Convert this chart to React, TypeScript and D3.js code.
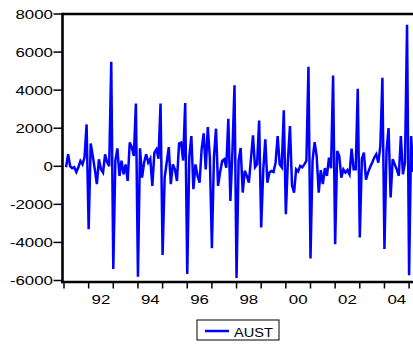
import React from 'react';
import * as d3 from 'd3';

// Monthly series AUST, starting February 1991
const startYear = 1991;
const startMonth = 2;
const aust1991 = [-50, 630, 0, -100, -50, -300, -50, 280, 100, 470, 2200];
const aust1992 = [-3300, 1200, 540, -160, -940, 370, -160, -330, 630, 210, 0, 5490];
const aust1993 = [-5400, 300, 940, -510, 300, -420, 100, -770, 1250, 1000, 540, 3300];
const aust1994 = [-5800, 940, -600, 200, 630, 200, 400, -1030, 720, 890, 400, 3300];
const aust1995 = [-4660, -600, 200, 1010, -940, 100, -160, -770, 1190, 1240, 300, 3320];
const aust1996 = [-5660, 500, 1590, -1200, 100, -500, -860, 900, 1730, -160, 2060, 450];
const aust1997 = [-4300, 500, 1975, -1030, -300, 280, 370, -70, 2500, -1820, 800, 4250];
const aust1998 = [-5870, 300, 960, -1380, -240, -500, -860, 370, 1625, -50, 100, 2400];
const aust1999 = [-3215, -200, 1420, -860, -330, -250, -300, 190, 1590, 100, -50, 2940];
const aust2000 = [-2520, 300, 2110, -1000, -1380, -160, -270, 20, -50, 100, 280, 5230];
const aust2001 = [-4840, 300, 1270, 540, -1380, -200, -940, -100, -500, 450, -100, 4770];
const aust2002 = [-4090, 800, 540, -600, -160, -330, -200, -420, 930, -160, -160, 4070];
const aust2003 = [-3740, 400, 720, -700, -330, -50, 190, 450, 630, 190, 1060, 4650];
const aust2004 = [-4350, 800, 2010, -1640, 370, 100, -160, -500, 1590, -420, 200, 7440];
const aust2005 = [-5720, 1590, -300];

const aust = [
  ...aust1991, ...aust1992, ...aust1993, ...aust1994, ...aust1995,
  ...aust1996, ...aust1997, ...aust1998, ...aust1999, ...aust2000,
  ...aust2001, ...aust2002, ...aust2003, ...aust2004, ...aust2005,
];

const yTicks = [-6000, -4000, -2000, 0, 2000, 4000, 6000, 8000];
const yearTicks = [1991, 1992, 1993, 1994, 1995, 1996, 1997, 1998, 1999, 2000, 2001, 2002, 2003, 2004, 2005];
const xLabelYears = [1992, 1994, 1996, 1998, 2000, 2002, 2004];
const xLabels = ['92', '94', '96', '98', '00', '02', '04'];
const seriesName = 'AUST';

export default function App() {
  const W = 413;
  const H = 344;
  const x = d3.scaleLinear().domain([1991, 2005]).range([64, 409.1]);
  const y = d3.scaleLinear().domain([-6000, 8000]).range([280.5, 14]);
  const left = 62.5;
  const top = y(8000);
  const bottom = 282;
  const right = W + 10;

  const pts: [number, number][] = aust.map((v, i) => [startYear + (startMonth - 1 + i) / 12, v]);
  const line = d3
    .line<[number, number]>()
    .x((d) => x(d[0]))
    .y((d) => y(d[1]));

  const font = '"Liberation Sans", Arial, sans-serif';
  const blue = '#0000FF';

  return (
    <svg
      width={W}
      height={H}
      style={{ position: 'absolute', left: 0, top: 0, background: '#fff' }}
    >
      <defs>
        <clipPath id="plotclip">
          <rect x={left} y={top - 2} width={right - left} height={bottom - top + 4} />
        </clipPath>
      </defs>
      <rect x={0} y={0} width={W} height={H} fill="#fff" />

      <path
        d={line(pts) || ''}
        fill="none"
        stroke={blue}
        strokeWidth={2.5}
        clipPath="url(#plotclip)"
      />

      {/* frame */}
      <line x1={left} x2={right} y1={top} y2={top} stroke="#000" strokeWidth={2.6} />
      <line x1={left} x2={left} y1={top - 1.3} y2={bottom + 1.3} stroke="#000" strokeWidth={2.6} />
      <line x1={left - 1.3} x2={right} y1={bottom} y2={bottom} stroke="#000" strokeWidth={2.6} />

      {/* y ticks */}
      {yTicks.map((t) => (
        <g key={t}>
          <line x1={53.5} x2={left} y1={y(t)} y2={y(t)} stroke="#000" strokeWidth={1.5} />
          <text
            transform={`translate(53, ${y(t) + 4.5}) scale(1.35,1)`}
            textAnchor="end"
            fontFamily={font}
            fontSize={12.5}
            fill="#000"
          >
            {t}
          </text>
        </g>
      ))}

      {/* x ticks */}
      {yearTicks.map((yr) => (
        <line key={yr} x1={x(yr)} x2={x(yr)} y1={bottom} y2={bottom + 6.5} stroke="#000" strokeWidth={1.5} />
      ))}
      {xLabelYears.map((yr, i) => (
        <text
          key={yr}
          transform={`translate(${x(yr + 0.5)}, 303.5) scale(1.35,1)`}
          textAnchor="middle"
          fontFamily={font}
          fontSize={12.5}
          fill="#000"
        >
          {xLabels[i]}
        </text>
      ))}

      {/* legend */}
      <rect x={197} y={320} width={82} height={20} fill="#fff" stroke="#000" strokeWidth={1} />
      <line x1={205} x2={229} y1={331} y2={331} stroke={blue} strokeWidth={2.5} />
      <text
        x={234}
        y={336.5}
        fontFamily={font}
        fontSize={13.5}
        textLength={39}
        lengthAdjust="spacingAndGlyphs"
        fill="#000"
      >
        {seriesName}
      </text>
    </svg>
  );
}
